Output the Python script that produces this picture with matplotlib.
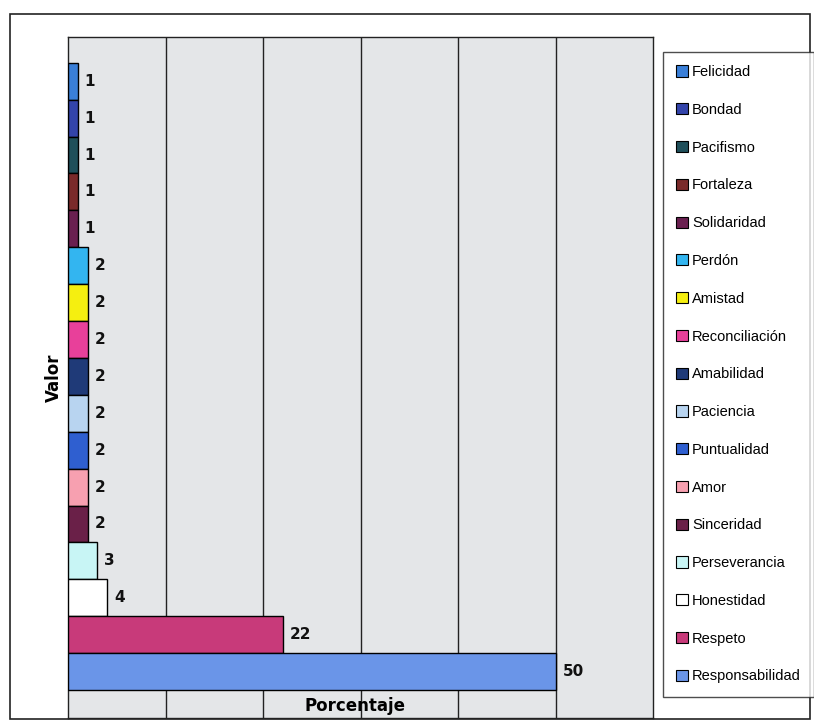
import matplotlib
matplotlib.use("Agg")
import matplotlib.pyplot as plt
from matplotlib.patches import Rectangle, Patch

categories = ["Felicidad", "Bondad", "Pacifismo", "Fortaleza", "Solidaridad", "Perdón",
              "Amistad", "Reconciliación", "Amabilidad", "Paciencia", "Puntualidad", "Amor",
              "Sinceridad", "Perseverancia", "Honestidad", "Respeto", "Responsabilidad"]
values = [1, 1, 1, 1, 1, 2, 2, 2, 2, 2, 2, 2, 2, 3, 4, 22, 50]
colors = ["#3a7fd8", "#3344aa", "#1f4f5a", "#7a2a2a", "#6a2050", "#33b5f0",
          "#f5ef10", "#e8409a", "#1f3a78", "#b8d4f0", "#2f5fd0", "#f7a0b0",
          "#6a2048", "#c8f5f5", "#ffffff", "#c83a7a", "#6a95e8"]

fig = plt.figure(figsize=(8.14, 7.23), dpi=100)
fig.patch.set_facecolor("white")
W, H = 814, 723

# outer chart border
fig.patches.append(Rectangle((10 / W, 1 - 719 / H), (810 - 10) / W, (719 - 14) / H,
                             transform=fig.transFigure, fill=False, edgecolor="#222222",
                             linewidth=1.2))

ax = fig.add_axes([68 / W, 1 - 718 / H, (653 - 68) / W, (718 - 37) / H])
ax.set_facecolor("#e4e6e8")

n = len(categories)
ypos = [n - 1 - i for i in range(n)]
bars = ax.barh(ypos, values, height=1.0, color=colors, edgecolor="black", linewidth=1.0, zorder=3)
for y, v in zip(ypos, values):
    ax.text(v + 0.7, y, str(v), va="center", ha="left", fontsize=11, fontweight="bold",
            color="#111111", zorder=4)

ax.set_xlim(0, 60)
ax.set_ylim(-0.5 - 0.76, n - 0.5 + 0.7)
ax.set_xticks(range(10, 60, 10))
ax.xaxis.grid(True, color="#222222", linewidth=1.0, zorder=1)
ax.set_yticks([])
ax.tick_params(axis="x", length=0, labelbottom=False)
for s in ax.spines.values():
    s.set_color("#222222")
    s.set_linewidth(1.0)

ax.set_ylabel("Valor", fontsize=12, fontweight="bold", labelpad=4)
ax.text(0.49, 0.018, "Porcentaje", transform=ax.transAxes, ha="center", va="center",
        fontsize=12, fontweight="bold", zorder=5)

handles = [Patch(facecolor=c, edgecolor="black", linewidth=0.8) for c in colors]
leg = fig.legend(handles, categories, loc="upper left",
                 bbox_to_anchor=(663 / W, 1 - 52 / H), borderaxespad=0.0,
                 frameon=True, fancybox=False,
                 edgecolor="#222222", labelspacing=1.63,
                 handlelength=0.8, handleheight=0.8, handletextpad=0.3,
                 borderpad=0.9, prop={"family": ["Liberation Sans", "DejaVu Sans"], "size": 10.5})
leg.get_frame().set_linewidth(1.0)

fig.savefig("out.png", dpi=100)
